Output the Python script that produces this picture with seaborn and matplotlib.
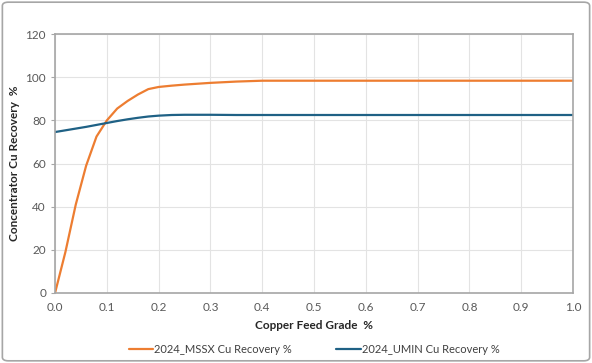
import numpy as np
import pandas as pd
import matplotlib
matplotlib.use("Agg")
import matplotlib.pyplot as plt
import seaborn as sns
from matplotlib.patches import FancyBboxPatch

grade = [0.0, 0.02, 0.04, 0.06, 0.08, 0.1, 0.12, 0.14, 0.16, 0.18, 0.2, 0.225,
         0.25, 0.3, 0.35, 0.4, 0.5, 0.6, 0.7, 0.8, 0.9, 1.0]
mssx = [0.0, 19, 41, 59, 72.5, 80, 85.5, 89, 92, 94.5, 95.5, 96.1,
        96.6, 97.4, 98.0, 98.4, 98.4, 98.4, 98.4, 98.4, 98.4, 98.4]
umin = [74.6, 75.4, 76.2, 77.0, 77.9, 78.8, 79.7, 80.5, 81.2, 81.8, 82.2, 82.5,
        82.6, 82.6, 82.5, 82.5, 82.5, 82.5, 82.5, 82.5, 82.5, 82.5]

df = pd.DataFrame({"grade": grade,
                   "2024_MSSX Cu Recovery %": mssx,
                   "2024_UMIN Cu Recovery %": umin})
long = df.melt(id_vars="grade", var_name="series", value_name="rec")

sns.set_style("white")
plt.rcParams["font.family"] = ["Lato", "DejaVu Sans"]

fig = plt.figure(figsize=(5.92, 3.63), dpi=100)
ax = fig.add_axes([0.093, 0.193, 0.875, 0.713])

sns.lineplot(data=long, x="grade", y="rec", hue="series",
             palette=["#ED7D31", "#1F6185"], linewidth=1.6, ax=ax)

ax.set_xlim(0, 1.0)
ax.set_ylim(0, 120)
ax.set_xticks(np.arange(0, 1.01, 0.1))
ax.set_xticklabels([f"{v:.1f}" for v in np.arange(0, 1.01, 0.1)])
ax.set_yticks(range(0, 121, 20))
ax.grid(True, color="#E3E3E3", linewidth=0.8)
for s in ax.spines.values():
    s.set_color("#A6A6A6")
    s.set_linewidth(1.2)
ax.tick_params(colors="#595959", labelsize=8.5, length=3, left=True, bottom=False)
ax.tick_params(axis="y", color="#A6A6A6")

ax.set_xlabel("Copper Feed Grade  %", fontsize=8.5, fontweight="bold", labelpad=5)
ax.set_ylabel("Concentrator Cu Recovery  %", fontsize=8.5, fontweight="bold", labelpad=4)

ax.legend(loc="upper center", bbox_to_anchor=(0.5, -0.16), ncol=2, frameon=False,
          fontsize=8, handlelength=2.2, handletextpad=0.1, columnspacing=4,
          labelcolor="#404040")

fig.patches.append(FancyBboxPatch((0.004, 0.006), 0.992, 0.988,
                                  boxstyle="round,pad=0,rounding_size=0.01",
                                  transform=fig.transFigure, fill=False,
                                  edgecolor="#A6A6A6", linewidth=1.2))

fig.savefig("out.png", dpi=100)
